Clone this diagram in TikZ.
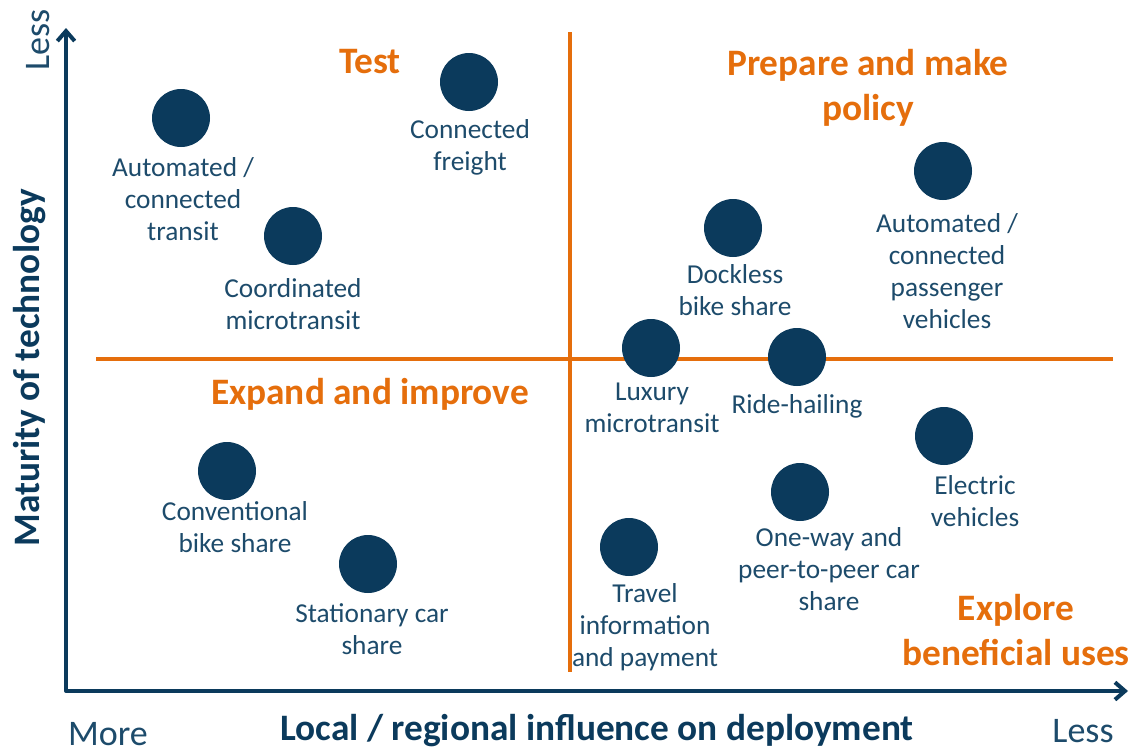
\documentclass[tikz,border=0pt]{standalone}
\usepackage{fontspec}
\setmainfont{Carlito}
\usetikzlibrary{arrows.meta, positioning}

\definecolor{navy}{HTML}{0B3A5C}
\definecolor{labelblue}{HTML}{1D4B6B}
\definecolor{quadorange}{HTML}{E56E0C}

\begin{document}
\begin{tikzpicture}[x=0.75pt, y=-0.75pt,
    dot/.style={circle, fill=navy, inner sep=0pt, minimum size=43.5pt},
    dotlabel/.style={align=center, text=labelblue, font=\fontsize{20.5}{24}\selectfont},
    quadlabel/.style={align=center, text=quadorange, font=\bfseries\fontsize{28}{34}\selectfont},
    axislabel/.style={text=navy, font=\bfseries\fontsize{28}{32}\selectfont},
    endlabel/.style={text=labelblue, inner sep=0pt, font=\fontsize{27}{32}\selectfont},
    axis/.style={draw=navy, line width=3pt, line join=round, {Straight Barb[length=7.5pt, width=13pt]}-{Straight Barb[length=7.5pt, width=13pt]}},
    divider/.style={draw=quadorange, line width=3pt}]
    % Frame
    \useasboundingbox (0,0) rectangle (1134,753);
    % Quadrant lines
    \coordinate (vtop) at (570,32);
    \coordinate (vbot) at (570,672);
    \coordinate (hleft) at (96,359);
    \coordinate (hright) at (1113,359);
    \draw[divider] (vtop) -- (vbot);
    \draw[divider] (hleft) -- (hright);
    % Axes
    \coordinate (ytip) at (66,28);
    \coordinate (xtip) at (1128,691);
    \draw[axis] (ytip) |- (xtip);
    % Dots and their labels
    \foreach \n/\x/\y/\lx/\ly/\txt in {
        autotransit/181/118/183/199/{Automated /\\connected\\transit},
        freight/469/82/470/147/{Connected\\freight},
        coordmicro/293/236/293/304/{Coordinated\\microtransit},
        dockless/733/228/735/290/{Dockless\\bike share},
        autopassenger/943/171/947/271/{Automated /\\connected\\passenger\\vehicles},
        luxury/651/348/652/408/{Luxury\\microtransit},
        ridehail/797/357/797/406/{Ride-hailing},
        electric/944/436/975/501/{Electric\\vehicles},
        convbike/227/471/235/527/{Conventional\\bike share},
        stationary/368/564/372/629/{Stationary car\\share},
        travelinfo/629/547/645/627/{Travel\\information\\and payment},
        oneway/800/492/829/569/{One-way and\\peer-to-peer car\\share}}
    {
        \node[dot] (dot-\n) at (\x,\y) {};
        \node[dotlabel] (lbl-\n) at (\lx,\ly) {\txt};
    }
    % Quadrant titles
    \node[quadlabel] (test) at (370,62) {Test};
    \node[quadlabel] (prepare) at (868,88) {Prepare and make\\policy};
    \node[quadlabel] (expand) at (370,394) {Expand and improve};
    \node[quadlabel] (explore) at (1016,630) {Explore\\beneficial uses};
    % Axis texts
    \node[endlabel, rotate=90] (yless) at (38,40) {Less};
    \node[axislabel, rotate=90] (ytitle) at (30,368) {Maturity of technology};
    \node[endlabel] (xmore) at (108,734) {More};
    \node[axislabel] (xtitle) at (597,731) {Local / regional influence on deployment};
    \node[endlabel] (xless) at (1083,731) {Less};
\end{tikzpicture}
\end{document}
